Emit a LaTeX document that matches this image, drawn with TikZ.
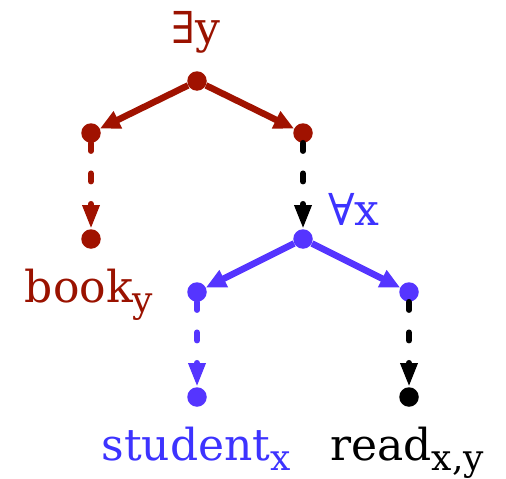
\documentclass[tikz,border=0pt]{standalone}
\usepackage{fontspec}
\setmainfont{DejaVu Serif}
\usetikzlibrary{arrows.meta}
\definecolor{dred}{HTML}{A01200}
\definecolor{tred}{HTML}{9A1200}
\definecolor{lblue}{HTML}{5535FF}
\definecolor{tblue}{HTML}{3D33FF}
\newcommand\lsub[1]{\raisebox{-10pt}{\fontsize{36}{36}\selectfont #1}}
\tikzset{
  dot/.style={circle,fill=#1,inner sep=0pt,minimum size=19.5pt},
  solidarr/.style={draw=#1,line width=6.5pt,-{Triangle[length=20pt,width=18pt]}},
  dasharr/.style={draw=#1,line width=6pt,line cap=round,dash pattern=on 8pt off 22.5pt,-{Triangle[length=24pt,width=16pt]}},
  lbl/.style={anchor=base,inner sep=0pt,font=\fontsize{44}{44}\selectfont}
}
\begin{document}
\begin{tikzpicture}[x=1pt,y=-1pt]
\useasboundingbox (0,0) rectangle (506,479);
\node[dot=dred] (top) at (197,81) {};
\node[dot=dred] (l) at (91,133) {};
\node[dot=dred] (r) at (303,133) {};
\node[dot=dred] (bk) at (91,239) {};
\node[dot=lblue] (fa) at (303,239) {};
\node[dot=lblue] (sl) at (197,292) {};
\node[dot=lblue] (sr) at (409,292) {};
\node[dot=lblue] (st) at (197,397) {};
\node[dot=black] (rd) at (409,397) {};
\draw[solidarr=dred] (top) -- (l);
\draw[solidarr=dred] (top) -- (r);
\draw[dasharr=dred] (l) -- (bk);
\draw[dasharr=black] (r) -- (fa);
\draw[solidarr=lblue] (fa) -- (sl);
\draw[solidarr=lblue] (fa) -- (sr);
\draw[dasharr=lblue] (sl) -- (st);
\draw[dasharr=black] (sr) -- (rd);
\node[lbl,text=tred] (ey) at (196,43) {∃y};
\node[lbl,text=tred] (book) at (89,302) {book\lsub{y}};
\node[lbl,text=tblue] (ax) at (354,225) {∀x};
\node[lbl,text=tblue] (stud) at (196,460) {student\lsub{x}};
\node[lbl,text=black] (read) at (407,460) {read\lsub{x,y}};
\end{tikzpicture}
\end{document}
